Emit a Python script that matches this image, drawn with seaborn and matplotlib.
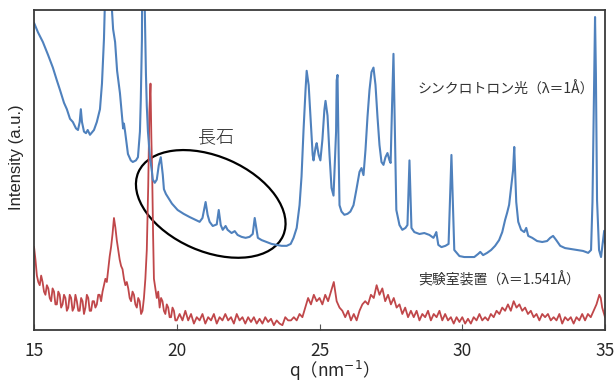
"""
Synchrotron vs lab XRD comparison (feldspar region highlighted).
"""

import numpy as np
import pandas as pd
import matplotlib
matplotlib.use("Agg")
import matplotlib.pyplot as plt
import matplotlib.transforms as mtransforms
from matplotlib.patches import Ellipse
import seaborn as sns

# ── DATA ──────────────────────────────────────────────
# synchrotron trace, q in nm^-1, intensity in arbitrary units (axis 0-100)
SYNC_Q = [15.00, 15.14, 15.31, 15.49, 15.66, 15.80, 15.91, 16.05, 16.15, 16.26,
          16.36, 16.47, 16.54, 16.60, 16.64, 16.68, 16.75, 16.82, 16.88, 16.96,
          17.10, 17.20, 17.31, 17.38, 17.45, 17.52, 17.59, 17.66, 17.73, 17.77,
          17.84, 17.91, 18.01, 18.08, 18.12, 18.15, 18.19, 18.29, 18.39, 18.46,
          18.57, 18.64, 18.71, 18.74, 18.78, 18.81, 18.85, 18.88, 18.92, 18.95,
          18.99, 19.06, 19.13, 19.16, 19.23, 19.30, 19.37, 19.44, 19.51, 19.55,
          19.62, 19.69, 19.83, 20.03, 20.24, 20.45, 20.66, 20.80, 20.90, 21.01,
          21.08, 21.15, 21.26, 21.40, 21.47, 21.54, 21.61, 21.71, 21.78, 21.92,
          22.03, 22.13, 22.27, 22.41, 22.55, 22.66, 22.73, 22.84, 22.97, 23.15,
          23.32, 23.50, 23.67, 23.85, 23.99, 24.09, 24.20, 24.30, 24.37, 24.44,
          24.51, 24.55, 24.62, 24.69, 24.76, 24.79, 24.86, 24.90, 24.97, 25.03,
          25.10, 25.17, 25.21, 25.28, 25.35, 25.42, 25.49, 25.58, 25.60, 25.63,
          25.67, 25.70, 25.77, 25.87, 25.98, 26.08, 26.19, 26.29, 26.40, 26.47,
          26.54, 26.61, 26.68, 26.75, 26.82, 26.89, 26.96, 27.03, 27.10, 27.17,
          27.24, 27.31, 27.38, 27.45, 27.49, 27.54, 27.59, 27.64, 27.69, 27.80,
          27.90, 28.01, 28.08, 28.15, 28.22, 28.32, 28.50, 28.67, 28.85, 28.99,
          29.06, 29.09, 29.16, 29.27, 29.41, 29.52, 29.62, 29.72, 29.90, 30.07,
          30.24, 30.42, 30.56, 30.63, 30.73, 30.87, 31.01, 31.15, 31.29, 31.40,
          31.50, 31.57, 31.64, 31.78, 31.82, 31.89, 31.96, 32.06, 32.17, 32.24,
          32.31, 32.45, 32.62, 32.80, 32.97, 33.08, 33.18, 33.29, 33.43, 33.60,
          33.81, 34.02, 34.23, 34.41, 34.51, 34.56, 34.61, 34.65, 34.68, 34.72,
          34.79, 34.86, 34.93, 34.97, 35.00]
SYNC_I = [96, 93, 90, 86, 82, 78, 75, 71, 69, 66,
          65, 63, 62.5, 65, 69, 65, 62, 61.5, 62.5, 61,
          62.5, 65, 69, 77, 91, 115, 140, 115, 100, 94,
          90, 81, 74, 67, 63, 64.5, 62, 55, 53, 52.5,
          53, 54, 62, 72, 91, 150, 110, 100, 80, 70,
          62, 54, 49.5, 47, 46, 47, 51.5, 54, 48.5, 44,
          42.5, 41.5, 39.5, 37.5, 36.3, 35.3, 34.4, 33.8, 35, 40,
          36, 33.8, 32.5, 33, 37.5, 32.8, 31.3, 32.5, 31.3, 30.3,
          30.9, 29.7, 29.1, 28.8, 29.1, 30, 35, 28.8, 28.1, 27.5,
          26.9, 26.6, 26.3, 26.3, 26.9, 28.8, 31.9, 39, 48, 62.5,
          75, 81, 76.5, 65.5, 54.7, 53, 57, 58.4, 54.7, 53,
          59.4, 68.8, 71.6, 67, 54.7, 44.4, 42, 62, 78, 79.7,
          55, 39, 37, 36, 36.3, 37, 39, 43.8, 49.4, 50.6,
          48.4, 56.3, 66.6, 75, 80.6, 82, 76.6, 66.6, 57.8, 52.5,
          51.6, 54, 55.3, 53, 52.2, 70, 86.3, 62, 37.5, 32.8,
          31.3, 31.9, 32.8, 53, 31.9, 30.6, 30, 30.3, 29.7, 28.8,
          30, 30.6, 26.6, 25.9, 26.3, 26.9, 54.7, 25, 23.1, 22.8,
          22.8, 22.8, 23.8, 24.4, 23.4, 24.1, 25, 26.3, 28.1, 30.6,
          34.4, 36.6, 39.1, 50, 57.2, 40, 33.8, 31.3, 30.6, 31.9,
          29.4, 28.8, 27.8, 27.5, 27.8, 28.8, 29.4, 28.1, 26.3, 25.6,
          25.3, 25, 24.7, 24.1, 25, 40, 71.9, 97.8, 80, 40.6,
          25, 22.8, 28, 31, 27]

# lab instrument trace (noisy), same axes
LAB_Q = [15.00, 15.05, 15.10, 15.15, 15.20, 15.25, 15.30, 15.35, 15.40, 15.45,
         15.50, 15.55, 15.60, 15.65, 15.70, 15.75, 15.80, 15.85, 15.90, 15.95,
         16.00, 16.05, 16.10, 16.15, 16.20, 16.25, 16.30, 16.35, 16.40, 16.45,
         16.50, 16.55, 16.60, 16.65, 16.70, 16.75, 16.80, 16.85, 16.90, 16.95,
         17.00, 17.05, 17.10, 17.15, 17.20, 17.25, 17.30, 17.35, 17.40, 17.45,
         17.50, 17.55, 17.60, 17.65, 17.70, 17.75, 17.80, 17.85, 17.90, 17.95,
         18.00, 18.05, 18.10, 18.15, 18.20, 18.25, 18.30, 18.35, 18.40, 18.45,
         18.50, 18.55, 18.60, 18.65, 18.70, 18.75, 18.80, 18.85, 18.90, 18.95,
         19.00, 19.04, 19.08, 19.11, 19.14, 19.17, 19.20, 19.25, 19.30, 19.35,
         19.40, 19.45, 19.50, 19.55, 19.60, 19.65, 19.70, 19.75, 19.80, 19.85,
         19.90, 19.95, 20.00, 20.10, 20.20, 20.30, 20.40, 20.50, 20.60, 20.70,
         20.80, 20.90, 21.00, 21.10, 21.20, 21.30, 21.40, 21.50, 21.60, 21.70,
         21.80, 21.90, 22.00, 22.10, 22.20, 22.30, 22.40, 22.50, 22.60, 22.70,
         22.80, 22.90, 23.00, 23.10, 23.20, 23.30, 23.40, 23.50, 23.60, 23.70,
         23.80, 23.90, 24.00, 24.10, 24.20, 24.30, 24.40, 24.50, 24.60, 24.70,
         24.80, 24.90, 25.00, 25.10, 25.20, 25.30, 25.40, 25.50, 25.60, 25.70,
         25.80, 25.90, 26.00, 26.10, 26.20, 26.30, 26.40, 26.50, 26.60, 26.70,
         26.80, 26.90, 27.00, 27.10, 27.20, 27.30, 27.40, 27.50, 27.60, 27.70,
         27.80, 27.90, 28.00, 28.10, 28.20, 28.30, 28.40, 28.50, 28.60, 28.70,
         28.80, 28.90, 29.00, 29.10, 29.20, 29.30, 29.40, 29.50, 29.60, 29.70,
         29.80, 29.90, 30.00, 30.10, 30.20, 30.30, 30.40, 30.50, 30.60, 30.70,
         30.80, 30.90, 31.00, 31.10, 31.20, 31.30, 31.40, 31.50, 31.60, 31.70,
         31.80, 31.90, 32.00, 32.10, 32.20, 32.30, 32.40, 32.50, 32.60, 32.70,
         32.80, 32.90, 33.00, 33.10, 33.20, 33.30, 33.40, 33.50, 33.60, 33.70,
         33.80, 33.90, 34.00, 34.10, 34.20, 34.30, 34.40, 34.50, 34.60, 34.70,
         34.80, 34.85, 34.90, 35.00]
LAB_I = [26, 22, 17, 15, 14, 17, 15, 12, 11, 14,
         13, 10, 9, 13, 12, 8, 8, 12, 11, 7,
         8, 11, 10, 6, 7, 11, 10, 6, 7, 11,
         9, 6, 6, 10, 9, 5, 7, 11, 10, 6,
         6, 9, 9, 7, 8, 11, 11, 9, 12, 14,
         16, 15, 19, 23, 26, 30, 35, 32, 28, 25,
         22, 20, 19, 16, 14, 15, 13, 10, 9, 12,
         11, 8, 7, 10, 9, 5, 6, 10, 16, 25,
         45, 68, 77, 60, 48, 30, 16, 13, 10, 12,
         7, 10, 9, 6, 5, 8, 7, 4, 4, 7,
         6, 3, 3, 5, 3, 6, 3, 5, 2, 4,
         3, 5, 2, 4, 3, 5, 2, 4, 3, 5,
         3, 4, 2, 5, 3, 4, 2, 4, 2.5, 4,
         2, 3.5, 2, 4, 2.5, 3.5, 1.5, 3, 2, 1.5,
         4, 3, 3, 4, 3, 5, 4, 7, 10, 8,
         11, 9, 10, 8, 11, 9, 12, 15, 9, 7,
         6, 4, 6, 3, 5, 3, 6, 8, 9, 8,
         11, 10, 14, 11, 13, 9, 11, 8, 10, 7,
         8, 5, 7, 4, 6, 4, 6, 3, 5, 4,
         6, 3, 5, 4, 6, 3, 5, 3, 4, 2,
         4, 2.5, 4, 2, 3.5, 2, 4, 3, 5, 3,
         4, 3, 5, 4, 6, 5, 7, 6, 8, 6,
         9, 7, 8, 6, 7, 5, 6, 4, 5, 3,
         5, 4, 5, 3, 4, 3, 5, 2, 4, 3,
         4, 2, 4, 3, 5, 3, 5, 4, 6, 8,
         11, 10, 7, 4]

X_TICKS = [15, 20, 25, 30, 35]

SYNC_LABEL = "シンクロトロン光（λ＝1Å）"
LAB_LABEL = "実験室装置（λ＝1.541Å）"
FELDSPAR = "長石"

BLUE = "#4f81bd"
RED = "#c0474a"
JP = ["Noto Sans CJK JP", "DejaVu Sans"]


def main():
    sns.set_theme(style="white")
    plt.rcParams["font.family"] = JP

    sync = pd.DataFrame({"q": SYNC_Q, "I": SYNC_I})
    lab = pd.DataFrame({"q": LAB_Q, "I": LAB_I})

    fig = plt.figure(figsize=(6.14, 3.83), dpi=100, facecolor="white")
    ax = fig.add_axes([0.0554, 0.1384, 0.930, 0.8355])

    sns.lineplot(data=lab, x="q", y="I", ax=ax, color=RED, lw=1.3,
                 estimator=None, sort=False)
    sns.lineplot(data=sync, x="q", y="I", ax=ax, color=BLUE, lw=1.5,
                 estimator=None, sort=False)

    ax.set_xlim(15, 35)
    ax.set_ylim(0, 100)
    ax.set_xticks(X_TICKS)
    ax.set_yticks([])
    ax.tick_params(axis="x", direction="in", length=4, width=0.8,
                   color="#555555", labelsize=12.5, pad=9, bottom=True)
    for sp in ax.spines.values():
        sp.set_color("#3a3a3a")
        sp.set_linewidth(1.3)

    ax.set_ylabel("Intensity (a.u.)", fontsize=12,
                  family=["Liberation Sans", "DejaVu Sans"])
    ax.yaxis.set_label_coords(-0.018, 0.54)
    ax.set_xlabel("q（nm$^{-1}$）", fontsize=12.5)
    ax.xaxis.set_label_coords(0.517, -0.09)

    # feldspar ring, drawn in screen units so it stays a true ellipse
    tr = fig.dpi_scale_trans + mtransforms.ScaledTranslation(21.19, 39.4, ax.transData)
    ax.add_patch(Ellipse((0, 0), 1.58, 0.95, angle=-23.7, fill=False,
                         ec="black", lw=1.6, transform=tr, clip_on=False))

    ax.text(21.36, 60.3, FELDSPAR, fontsize=13, ha="center", va="center",
            color="#222222", fontweight="light")
    ax.text(28.43, 75.3, SYNC_LABEL, fontsize=10, ha="left", va="center",
            color="#333333")
    ax.text(28.46, 15.6, LAB_LABEL, fontsize=10, ha="left", va="center",
            color="#333333")

    fig.savefig("out.png", dpi=100)
    plt.close(fig)


if __name__ == "__main__":
    main()
